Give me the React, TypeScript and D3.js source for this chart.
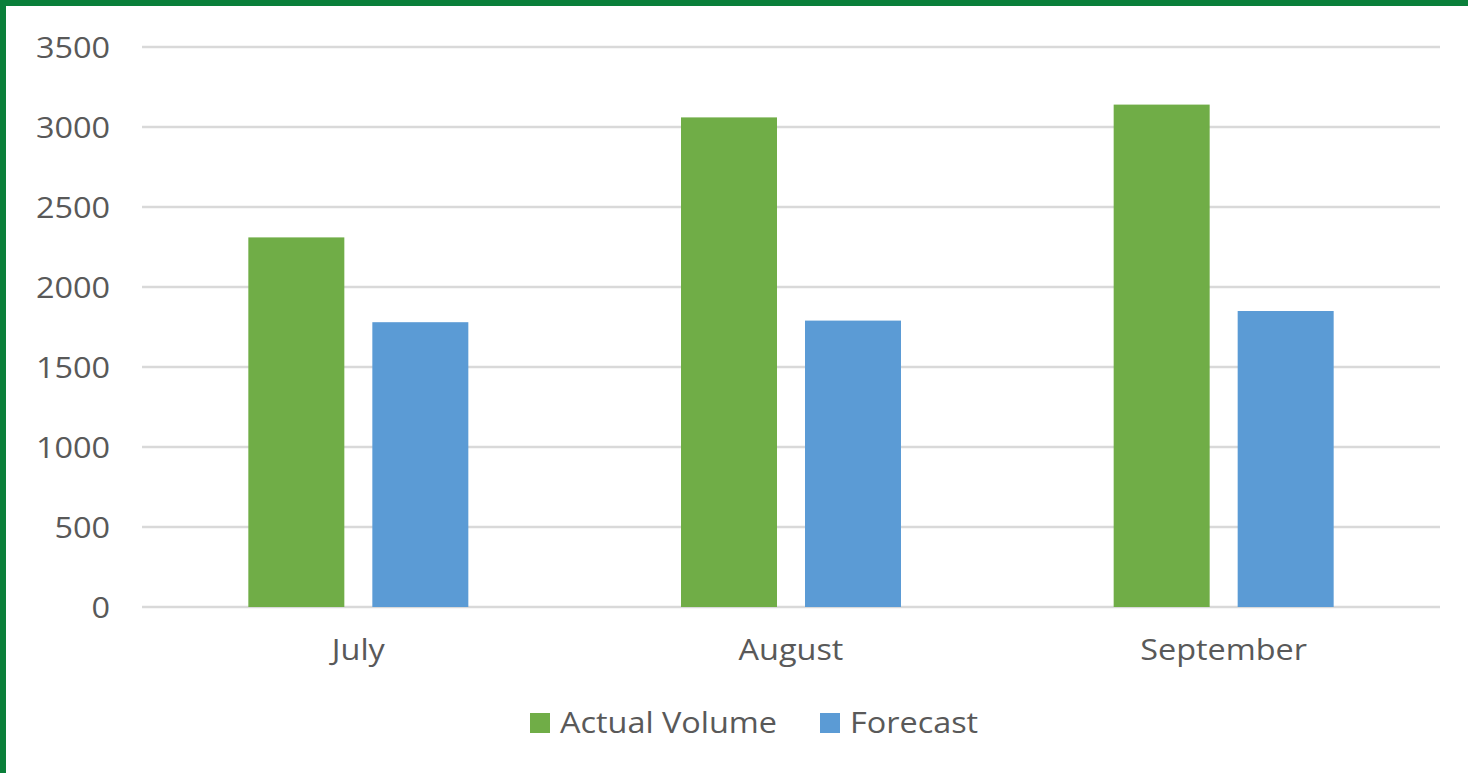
import React from "react";
import * as d3 from "d3";

const months = ["July", "August", "September"];
const seriesNames = ["Actual Volume", "Forecast"];
const actualVolume = [2310, 3060, 3140];
const forecast = [1780, 1790, 1850];
const yTicks = [0, 500, 1000, 1500, 2000, 2500, 3000, 3500];
const seriesColors = ["#70ad47", "#5b9bd5"];

const W = 1468;
const H = 773;
const plot = { left: 142, right: 1440, top: 47, bottom: 607 };
const FONT = "'Open Sans', 'Noto Sans', sans-serif";
const TEXT = "#595959";
const FS = 30;
const SX = 1.08;

type LabelProps = {
  x: number;
  y: number;
  anchor: "start" | "middle" | "end";
  dy?: string;
  children: React.ReactNode;
};

// Text drawn slightly wide, anchored at (x, y)
function Label({ x, y, anchor, dy, children }: LabelProps) {
  return (
    <text
      transform={`translate(${x},${y}) scale(${SX},1)`}
      dy={dy}
      textAnchor={anchor}
      fontFamily={FONT}
      fontSize={FS}
      fill={TEXT}
    >
      {children}
    </text>
  );
}

export default function App() {
  const x = d3
    .scaleBand<string>()
    .domain(months)
    .range([plot.left, plot.right])
    .paddingInner(0)
    .paddingOuter(0);
  const y = d3.scaleLinear().domain([0, 3500]).range([plot.bottom, plot.top]);

  const barW = 96;
  const gap = 28;
  const values = [actualVolume, forecast];

  return (
    <div style={{ position: "fixed", left: 0, top: 0, width: W, height: H, background: "#fff" }}>
      <svg width={W} height={H} style={{ display: "block" }}>
        <rect x={0} y={0} width={W} height={H} fill="#ffffff" />
        {/* frame */}
        <rect x={0} y={0} width={W} height={6} fill="#0a7f3a" />
        <rect x={0} y={0} width={6} height={H} fill="#0a7f3a" />

        {/* gridlines and y tick labels */}
        {yTicks.map((t) => (
          <g key={t}>
            <line
              x1={plot.left}
              x2={plot.right}
              y1={y(t)}
              y2={y(t)}
              stroke="#d9d9d9"
              strokeWidth={2.5}
            />
            <Label x={110} y={y(t)} anchor="end" dy="0.36em">
              {t}
            </Label>
          </g>
        ))}

        {/* bars */}
        {months.map((m, i) => {
          const cx = (x(m) as number) + x.bandwidth() / 2;
          const start = cx - (barW * 2 + gap) / 2;
          return (
            <g key={m}>
              {values.map((vals, s) => (
                <rect
                  key={s}
                  x={start + s * (barW + gap)}
                  y={y(vals[i])}
                  width={barW}
                  height={y(0) - y(vals[i])}
                  fill={seriesColors[s]}
                />
              ))}
              <Label x={cx} y={660} anchor="middle">
                {m}
              </Label>
            </g>
          );
        })}

        {/* legend */}
        {seriesNames.map((name, s) => {
          const lx = s === 0 ? 530 : 820;
          return (
            <g key={name}>
              <rect x={lx} y={713} width={20} height={20} fill={seriesColors[s]} />
              <Label x={lx + 30} y={733} anchor="start">
                {name}
              </Label>
            </g>
          );
        })}
      </svg>
    </div>
  );
}
